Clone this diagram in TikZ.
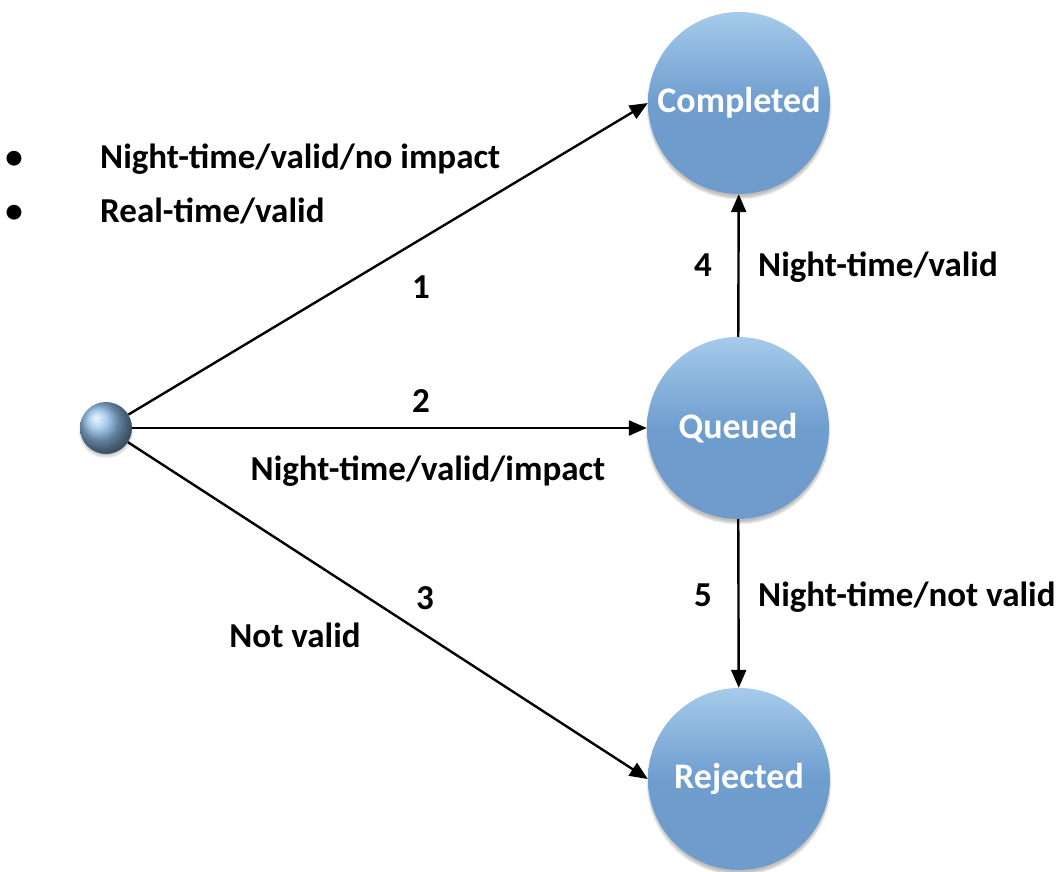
\documentclass[tikz,border=0pt]{standalone}
\usepackage{fontspec}
\setmainfont{Carlito}
\usetikzlibrary{arrows.meta,shadows.blur}
\begin{document}
\begin{tikzpicture}[x=1pt,y=-1pt,
  state/.style={circle,minimum size=182pt,inner sep=0pt,draw=none,
    top color=blue1,bottom color=blue3,middle color=blue2,
    text=white,font=\bfseries\fontsize{36}{40}\selectfont,
    blur shadow={shadow xshift=0pt,shadow yshift=-4pt,shadow blur steps=8,shadow opacity=25}},
  lbl/.style={font=\bfseries\fontsize{35}{40}\selectfont,text=black,inner sep=0pt,anchor=base},
  arr/.style={line width=2.4pt,-{Triangle[length=18pt,width=15pt]}}]
\definecolor{blue1}{HTML}{A6CBEB}
\definecolor{blue2}{HTML}{6E9DCE}
\definecolor{blue3}{HTML}{6F9CCB}
\definecolor{ballc}{HTML}{8DBBE6}
\useasboundingbox (0,0) rectangle (1061,871);
\node[state] (completed) at (739,103) {Completed};
\node[state] (queued) at (738,428) {Queued};
\node[state] (rejected) at (739,779) {Rejected};
\node[circle,minimum size=52pt,inner sep=0pt,ball color=ballc,
  blur shadow={shadow xshift=0pt,shadow yshift=-3pt,shadow blur steps=6,shadow opacity=20}] (start) at (106,428) {};
\draw[arr] (start) -- (completed.west);
\draw[arr] (start) -- (queued.west);
\draw[arr] (start) -- (rejected.west);
\draw[arr] (queued) -- (completed);
\draw[arr] (queued) -- (rejected);
\node[lbl] (b1) at (14,168) {\textbullet};
\node[lbl] (b2) at (14,222) {\textbullet};
\node[lbl,anchor=base west] (t1) at (100,168) {Night-time/valid/no impact};
\node[lbl,anchor=base west] (t2) at (100,222) {Real-time/valid};
\node[lbl] (n1) at (421,298) {1};
\node[lbl] (n2) at (421,412) {2};
\node[lbl] (l2) at (428,480) {Night-time/valid/impact};
\node[lbl] (n3) at (425,609) {3};
\node[lbl] (l3) at (295,647) {Not valid};
\node[lbl] (n4) at (703,276) {4};
\node[lbl,anchor=base west] (l4) at (758,276) {Night-time/valid};
\node[lbl] (n5) at (703,606) {5};
\node[lbl,anchor=base west] (l5) at (758,606) {Night-time/not valid};
\end{tikzpicture}
\end{document}
